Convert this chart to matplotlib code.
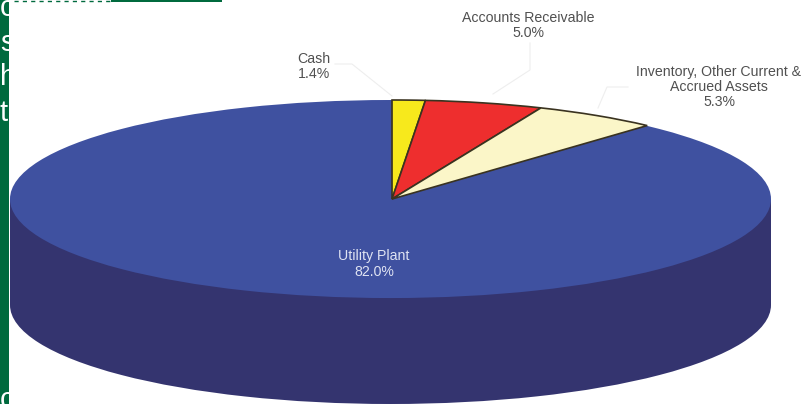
import matplotlib
matplotlib.use("Agg")
import matplotlib.pyplot as plt
from matplotlib.patches import Rectangle

W, H = 806, 404

labels = ["Cash\n1.4%", "Accounts Receivable\n5.0%", "Inventory, Other Current &\nAccrued Assets\n5.3%", "Utility Plant\n82.0%"]
# the three small slices, share of the full circle in percent
values = [1.4, 5.0, 5.3]
colors = ["#f7e91c", "#ee2e2e", "#fbf6c8"]
top_color = "#3f51a0"
side_color = "#34346f"
green = "#006a3e"
# bits of the page text that stick into the green column
page_letters = ["c", "s", "h", "t", "c"]

plt.rcParams["font.family"] = ["Liberation Sans", "DejaVu Sans"]

fig = plt.figure(figsize=(W / 100, H / 100), dpi=100, facecolor="white")

page = fig.add_axes([0, 0, 1, 1])
page.set_xlim(0, W)
page.set_ylim(H, 0)
page.axis("off")


def px_box(left, right, top, bottom):
    return [left / W, 1 - bottom / H, (right - left) / W, (bottom - top) / H]


# pie axes: x -1..1 over ellipse width, y 1 at top of ellipse
depth = 1.07
pie_ax = fig.add_axes(px_box(10, 771, 100, 404))
pie_ax.pie([1], colors=[side_color], center=(0, -depth), radius=1)
pie_ax.add_patch(Rectangle((-1, -depth), 2, depth, color=side_color, lw=0))
pie_ax.pie([1], colors=[top_color], radius=1)
shares = [v / 100 for v in values]
pie_ax.pie(shares, normalize=False, colors=colors, startangle=90, counterclock=False,
           center=(0.004, 0), radius=1,
           wedgeprops={"edgecolor": "#3a3320", "linewidth": 1.2})
pie_ax.set_aspect("auto")
pie_ax.set_xlim(-1, 1)
pie_ax.set_ylim(-1 - depth, 1)
pie_ax.patch.set_visible(False)

# leader lines
for xs, ys in [([335, 352, 392], [64, 64, 96]),
               ([530, 530, 493], [43, 70, 94]),
               ([628, 607, 598], [87, 87, 108])]:
    page.plot(xs, ys, color="#eeeeee", lw=0.8)

# labels
text_color = "#505050"
page.text(314, 66.5, labels[0], color=text_color, fontsize=10.2, ha="center", va="center", linespacing=1.12)
page.text(528, 25.5, labels[1], color=text_color, fontsize=10.2, ha="center", va="center", linespacing=1.12)
page.text(719, 87, labels[2], color=text_color, fontsize=10.2, ha="center", va="center", linespacing=1.12)

overlay = fig.add_axes([0, 0, 1, 1])
overlay.set_xlim(0, W)
overlay.set_ylim(H, 0)
overlay.axis("off")
overlay.text(374, 264, labels[3], color="#dfe3f2", fontsize=10.2, ha="center", va="center", linespacing=1.12)

# green page column and the strip along the top
overlay.add_patch(Rectangle((0, 0), 9, H, facecolor=green, edgecolor="none"))
overlay.add_patch(Rectangle((111, 0), 111, 1.5, facecolor=green, edgecolor="none"))
overlay.plot([14, 110], [0.6, 0.6], color=green, lw=1, linestyle=(0, (3, 3)))
bar_clip = Rectangle((0, 0), 9, H, transform=overlay.transData)
for letter, y in zip(page_letters, [8, 43, 77, 113, 400]):
    t = overlay.text(0, y, letter, color="white", fontsize=21, ha="left", va="center")
    t.set_clip_path(bar_clip)

fig.savefig("out.png", dpi=100)
